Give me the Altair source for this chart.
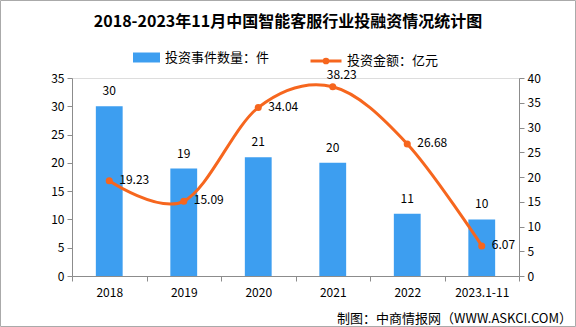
import altair as alt
import pandas as pd

years = ["2018", "2019", "2020", "2021", "2022", "2023.1-11"]
counts = [30, 19, 21, 20, 11, 10]
amounts = [19.23, 15.09, 34.04, 38.23, 26.68, 6.07]

title_text = "2018-2023年11月中国智能客服行业投融资情况统计图"
bar_name = "投资事件数量：件"
line_name = "投资金额：亿元"
credit = "制图：中商情报网（WWW.ASKCI.COM）"

FONT = "Noto Sans CJK SC"
BLUE = "#3d9ef0"
ORANGE = "#f6661e"
GRAY = "#8c8c8c"

df = pd.DataFrame({"year": years, "count": counts, "amount": amounts})
df["s1"] = bar_name
df["s2"] = line_name

W, H = 447, 198

base = alt.Chart(df)
xenc = alt.X("year:N", sort=years, title=None,
             scale=alt.Scale(paddingInner=0, paddingOuter=0),
             axis=alt.Axis(labelAngle=0, tickBand="extent", domainColor=GRAY,
                           tickColor=GRAY, tickSize=5, labelPadding=6,
                           labelFontSize=12, labelColor="#000", labelFont=FONT))

left_axis = alt.Axis(values=[0, 5, 10, 15, 20, 25, 30, 35], grid=False,
                     labelOverlap=False,
                     domainColor=GRAY, tickColor=GRAY, tickSize=5,
                     labelFontSize=12, labelColor="#000", labelFont=FONT,
                     labelPadding=3)
right_axis = alt.Axis(orient="right", values=[0, 5, 10, 15, 20, 25, 30, 35, 40],
                      grid=False, labelOverlap=False,
                      domainColor=GRAY, tickColor=GRAY, tickSize=5,
                      labelFontSize=12, labelColor="#000", labelFont=FONT,
                      labelPadding=3)

yleft = alt.Y("count:Q", title=None, scale=alt.Scale(domain=[0, 35]), axis=left_axis)
yright = alt.Y("amount:Q", title=None, scale=alt.Scale(domain=[0, 40]), axis=right_axis)

bars = base.mark_bar(width=alt.RelativeBandSize(0.36)).encode(
    x=xenc, y=yleft,
    color=alt.Color("s1:N", scale=alt.Scale(domain=[bar_name], range=[BLUE]),
                    legend=alt.Legend(orient="none", legendX=61, legendY=-34, title=None,
                                      symbolType="M-1,-0.37L1,-0.37L1,0.37L-1,0.37Z",
                                      symbolSize=729, symbolStrokeWidth=0,
                                      labelFontSize=13, labelFont=FONT, labelColor="#000",
                                      labelOffset=5)),
)
bar_text = base.mark_text(baseline="bottom", dy=-8, fontSize=12, font=FONT, color="#000").encode(
    x=xenc, y=yleft, text="count:Q")
left = alt.layer(bars, bar_text)

line = base.mark_line(interpolate="cardinal", strokeWidth=3).encode(
    x=xenc, y=yright,
    color=alt.Color("s2:N", scale=alt.Scale(domain=[line_name], range=[ORANGE]),
                    legend=alt.Legend(orient="none", legendX=237, legendY=-34, title=None,
                                      symbolType="M-1,0L1,0M0.12,0A0.12,0.12 0 1,1 -0.12,0A0.12,0.12 0 1,1 0.12,0",
                                      symbolSize=961, symbolStrokeWidth=3,
                                      labelFontSize=13, labelFont=FONT, labelColor="#000",
                                      labelOffset=4)),
)
points = base.mark_circle(size=50, opacity=1, color=ORANGE).encode(x=xenc, y=yright)
line_text = base.mark_text(align="left", baseline="middle", dx=10, dy=-1, fontSize=12,
                           font=FONT, color="#000").encode(
    x=xenc, y=yright,
    text=alt.Text("amount:Q", format=".2f")).transform_filter(alt.datum.year != "2021")
peak_text = base.mark_text(align="center", baseline="bottom", dx=9, dy=-5, fontSize=12,
                           font=FONT, color="#000").encode(
    x=xenc, y=yright,
    text=alt.Text("amount:Q", format=".2f")).transform_filter(alt.datum.year == "2021")
right = alt.layer(line, points, line_text, peak_text)

title_mark = alt.Chart(pd.DataFrame({"t": [title_text]})).mark_text(
    align="center", baseline="middle", fontSize=16, fontWeight="bold", font=FONT,
    color="#000").encode(x=alt.value(216), y=alt.value(-56), text="t:N")

credit_mark = alt.Chart(pd.DataFrame({"t": [credit]})).mark_text(
    align="right", baseline="middle", fontSize=13, font=FONT, color="#000").encode(
    x=alt.value(500), y=alt.value(241), text="t:N")

border = alt.Chart(pd.DataFrame({"t": [0]})).mark_rect(
    fill=None, stroke="#aaaaaa", strokeWidth=1).encode(
    x=alt.value(-71.5), x2=alt.value(503.5), y=alt.value(-77.5), y2=alt.value(248.5))

chart = alt.layer(left, right, title_mark, credit_mark, border).resolve_scale(
    y="independent", color="independent"
).properties(
    width=W, height=H,
    autosize=alt.AutoSizeParams(type="none"),
    padding={"left": 72, "top": 78, "right": 57, "bottom": 51},
).configure_view(stroke=None).configure(background="white")

chart.save("out.html", embed_options={"renderer": "svg", "actions": False})
